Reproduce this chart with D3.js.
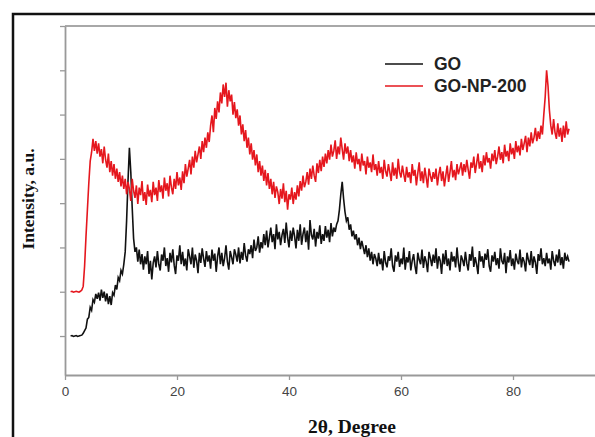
<!DOCTYPE html>
<html><head><meta charset="utf-8">
<script src="https://cdn.jsdelivr.net/npm/d3@7"></script>
<style>body{margin:0;background:#fff}svg{display:block}</style>
</head><body>
<svg id="chart" width="595" height="437"></svg>
<script>
// 2θ sampling grid: start and step (degrees)
const thetaStart = 1.0;
const thetaStep = 0.25;
const xTicks = [0, 20, 40, 60, 80];
const yTicks = [100, 200, 300, 400, 500, 600, 700, 800];
const seriesNames = ["GO", "GO-NP-200"];

// GO (black) intensity (one row = 5 degrees)
const goValues = [
100,101,99,100,101,99,100,101,102,106,112,118,138,142,165,158,182,176,195,184,
198,180,205,186,200,178,196,172,190,170,198,192,215,205,232,225,248,240,262,290,
360,450,525,470,390,320,290,300,268,295,262,285,250,280,262,292,240,270,228,265,
280,255,292,262,248,284,270,300,258,276,245,288,266,296,260,240,282,270,305,262,
290,258,275,248,296,280,262,300,254,284,270,242,288,265,298,275,256,292,268,282,
252,295,270,286,245,280,300,262,288,258,276,305,268,250,292,278,262,296,284,268,
300,264,290,272,310,282,268,296,285,305,276,318,292,300,325,288,312,298,330,305,
338,300,322,345,312,330,296,352,318,335,305,328,342,310,356,322,300,338,315,345,
325,298,340,315,352,306,330,345,312,338,295,362,328,318,342,302,335,320,350,308,
330,315,348,322,340,312,355,325,345,335,352,360,385,420,448,410,380,360,368,340,
352,325,338,318,330,305,322,296,315,300,285,305,278,298,270,290,262,285,275,258,
288,262,275,248,292,266,255,280,270,298,258,245,282,268,290,256,275,262,300,250,
278,266,292,248,270,285,258,240,288,272,262,295,254,280,268,244,290,276,258,284,
265,298,252,280,270,240,286,262,294,258,275,248,290,268,280,255,300,266,245,282,
272,258,290,264,248,285,270,302,256,278,262,240,292,268,280,254,286,272,296,258,
245,282,268,290,260,276,252,298,270,262,288,242,280,266,294,258,275,250,286,270,
262,295,255,278,268,246,288,272,260,292,254,280,266,240,285,270,298,262,276,258,
288,264,275,250,292,270,258,284,266,296,260,278,252,288,270,280,268
];

// GO-NP-200 (red) intensity (one row = 5 degrees)
const gonpValues = [
200,201,199,200,201,200,199,201,204,212,258,325,385,445,495,515,545,518,540,512,
535,505,522,490,528,498,480,512,470,495,462,488,455,478,448,470,438,462,432,455,
420,448,432,405,455,428,412,440,398,435,418,450,405,425,396,442,415,430,402,448,
418,435,405,452,425,440,410,458,428,445,415,462,436,420,455,432,470,440,458,430,
472,445,488,460,478,498,465,505,480,518,492,510,528,500,540,515,548,525,560,538,
575,598,560,615,590,630,605,650,625,668,640,672,618,655,630,645,600,628,592,612,
575,598,555,578,540,565,525,548,510,535,498,520,485,510,470,495,462,485,450,475,
440,468,432,455,420,448,412,438,425,398,432,410,445,402,428,385,420,408,435,398,
425,408,440,415,450,428,462,436,448,470,442,478,455,485,462,448,490,468,498,472,
505,482,512,490,520,498,532,505,518,542,500,528,510,548,522,498,535,512,528,495,
520,492,508,478,515,488,500,472,512,485,495,465,505,480,492,470,510,475,488,462,
495,468,482,455,498,472,460,488,470,450,492,462,480,455,500,470,458,485,465,448,
482,458,470,445,488,462,475,440,468,492,450,472,445,480,458,435,478,462,448,470,
455,478,440,465,482,450,472,438,462,485,448,470,495,458,475,452,488,465,478,492,
462,488,470,498,475,455,492,480,505,468,490,512,478,495,470,508,485,515,492,502,
478,512,495,520,488,505,528,498,515,490,532,505,518,495,535,510,525,500,540,515,
530,508,545,520,535,552,515,548,528,560,535,548,570,540,562,545,575,555,600,640,
700,665,610,575,555,590,560,545,580,550,570,538,575,548,585,555,568
];

const svg = d3.select("#chart");
const x = d3.scaleLinear().domain([0, 95]).range([65, 597]);
const y = d3.scaleLinear().domain([12, 800]).range([375, 26]);

// outer frame
svg.append("rect").attr("x", 13).attr("y", 14).attr("width", 620).attr("height", 460)
  .attr("fill", "none").attr("stroke", "#111").attr("stroke-width", 2.5);

// top line of plot box
svg.append("line").attr("x1", x(0)).attr("x2", 597).attr("y1", y(800)).attr("y2", y(800))
  .attr("stroke", "#a8a8a8").attr("stroke-width", 2);

// axes
const xAxis = svg.append("g").attr("transform", `translate(0,${y(12)})`)
  .call(d3.axisBottom(x).tickValues(xTicks).tickSize(5).tickPadding(6).tickSizeOuter(0));
const yAxis = svg.append("g").attr("transform", `translate(${x(0)},0)`)
  .call(d3.axisLeft(y).tickValues(yTicks).tickSize(5).tickFormat("").tickSizeOuter(0));
[xAxis, yAxis].forEach(g => {
  g.select(".domain").attr("stroke", "#999").attr("stroke-width", 1.8);
  g.selectAll(".tick line").attr("stroke", "#999").attr("stroke-width", 1.3);
});
xAxis.selectAll(".tick text").attr("fill", "#444").attr("font-family", "Liberation Sans, Arial, sans-serif")
  .attr("font-size", 13.5);

// lines
const line = d3.line().x((d, i) => x(thetaStart + i * thetaStep)).y(d => y(d));
svg.append("path").datum(goValues).attr("d", line).attr("fill", "none")
  .attr("stroke", "#111").attr("stroke-width", 1.6).attr("stroke-linejoin", "miter");
svg.append("path").datum(gonpValues).attr("d", line).attr("fill", "none")
  .attr("stroke", "#e5171e").attr("stroke-width", 1.6).attr("stroke-linejoin", "miter");

// legend
const legendColors = ["#111", "#e5171e"];
const leg = svg.append("g");
seriesNames.forEach((n, i) => {
  const ly = 64 + i * 22;
  leg.append("line").attr("x1", 385).attr("x2", 423).attr("y1", ly).attr("y2", ly)
    .attr("stroke", legendColors[i]).attr("stroke-width", 1.5);
  leg.append("text").attr("x", 434).attr("y", ly + 6).text(n)
    .attr("font-family", "Liberation Sans, Arial, sans-serif").attr("font-weight", "bold")
    .attr("font-size", 17.5).attr("fill", "#222");
});

// axis titles
svg.append("text").attr("x", 352).attr("y", 433).attr("text-anchor", "middle")
  .attr("font-family", "Liberation Serif, Times New Roman, serif").attr("font-weight", "bold")
  .attr("font-size", 19.5).attr("fill", "#111").text("2θ, Degree");
svg.append("text").attr("transform", "translate(34,199) rotate(-90)").attr("text-anchor", "middle")
  .attr("font-family", "Liberation Serif, Times New Roman, serif").attr("font-weight", "bold")
  .attr("font-size", 17.5).attr("fill", "#111").text("Intensity, a.u.");
</script>
</body></html>
